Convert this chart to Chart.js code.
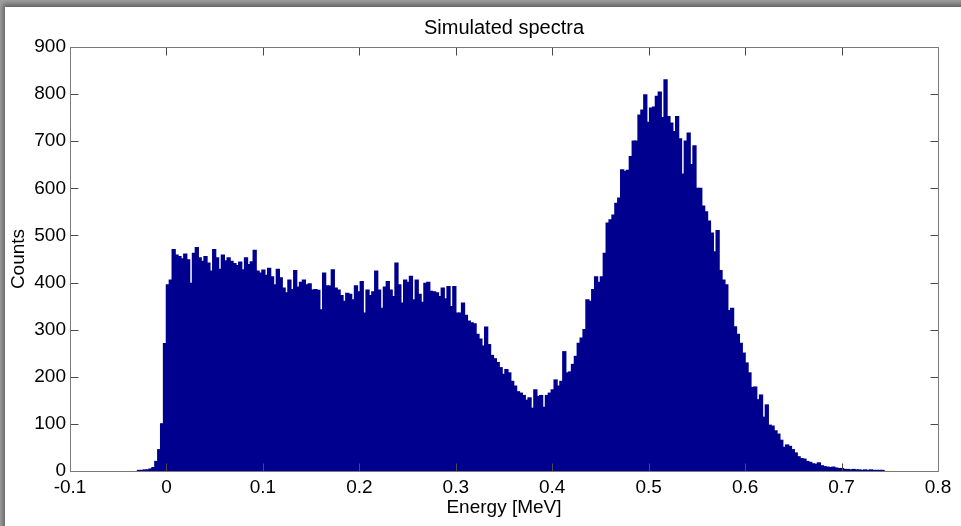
<!DOCTYPE html>
<html>
<head>
<meta charset="utf-8">
<title>Simulated spectra</title>
<script src="https://cdn.jsdelivr.net/npm/chart.js@4.4.1/dist/chart.umd.min.js"></script>
<style>
  html, body { margin: 0; padding: 0; }
  body { width: 961px; height: 526px; overflow: hidden; background: #a0a0a0; position: relative; }
  #sheet { position: absolute; left: 5px; top: 7px; width: 970px; height: 540px; background: #fff;
           box-shadow: -2px -3px 5px rgba(0,0,0,0.4); }
  #wrap { position: absolute; left: 0; top: 0; width: 961px; height: 526px; }
</style>
</head>
<body>
<div id="sheet"></div>
<div id="wrap"><canvas id="chart_simulatedSpectra"></canvas></div>
<script>
// histogram bins (MeV)
var binStart = -0.03;
var binWidth = 0.003;

// counts per bin
var counts = [
    1, 1, 2, 2, 4, 7, 20, 45, 100, 270,
    395, 405, 470, 458, 455, 450, 460, 448, 398, 462,
    474, 452, 445, 455, 441, 424, 470, 452, 428, 458,
    446, 452, 445, 440, 436, 443, 427, 452, 438, 444,
    468, 424, 420, 426, 415, 430, 412, 395, 428, 410,
    388, 378, 405, 385, 425, 390, 400, 405, 395, 397,
    384, 385, 383, 342, 420, 393, 392, 427, 388, 384,
    372, 360, 377, 375, 363, 393, 380, 402, 335, 384,
    372, 380, 424, 384, 345, 390, 402, 384, 370, 441,
    395, 356, 405, 400, 413, 363, 405, 375, 358, 398,
    400, 381, 380, 378, 370, 388, 365, 391, 349, 391,
    335, 335, 356, 330, 318, 314, 312, 290, 280, 265,
    305, 268, 245, 238, 230, 219, 205, 215, 208, 190,
    180, 168, 165, 160, 150, 155, 133, 172, 158, 160,
    135, 160, 165, 172, 193, 180, 190, 253, 208, 210,
    226, 243, 271, 282, 300, 363, 360, 385, 412, 400,
    412, 462, 526, 533, 543, 568, 579, 639, 636, 638,
    667, 700, 700, 755, 766, 798, 740, 770, 772, 795,
    804, 750, 830, 752, 738, 720, 752, 705, 630, 700,
    717, 650, 690, 600, 600, 562, 550, 530, 505, 465,
    510, 425, 405, 395, 340, 345, 306, 290, 271, 250,
    229, 208, 177, 178, 151, 161, 114, 140, 97, 95,
    85, 78, 65, 50, 55, 52, 45, 38, 30, 26,
    25, 20, 18, 15, 14, 17, 11, 9, 8, 7,
    8, 6, 5, 5, 3, 3, 2, 3, 2, 2,
    1, 2, 1, 2, 1, 1, 1, 1
];

var xTickValues = [-0.1, 0, 0.1, 0.2, 0.3, 0.4, 0.5, 0.6, 0.7, 0.8];
var yTickValues = [0, 100, 200, 300, 400, 500, 600, 700, 800, 900];

var binCenters = counts.map(function (c, i) { return binStart + binWidth * (i + 0.5); });

var fontFamily = "'Liberation Sans', Arial, Helvetica, sans-serif";
var labelFont = { family: fontFamily, size: 19, weight: 'normal' };

// matlab style box with inward ticks on all four sides
var axesBox = {
    id: 'axesBox',
    afterDatasetsDraw: function (chart) {
        var ctx = chart.ctx;
        var a = chart.chartArea;
        var xs = chart.scales.x, ys = chart.scales.y;
        var l = Math.round(a.left) + 0.5, r = Math.round(a.right) + 0.5;
        var t = Math.round(a.top) + 0.5, b = Math.round(a.bottom) + 0.5;
        ctx.save();
        ctx.lineWidth = 1;
        ctx.strokeStyle = '#4a4a4a';
        ctx.beginPath();
        xs.ticks.forEach(function (tk) {
            var px = Math.round(xs.getPixelForValue(tk.value)) + 0.5;
            ctx.moveTo(px, b); ctx.lineTo(px, b - 8);
            ctx.moveTo(px, t); ctx.lineTo(px, t + 8);
        });
        ys.ticks.forEach(function (tk) {
            var py = Math.round(ys.getPixelForValue(tk.value)) + 0.5;
            ctx.moveTo(l, py); ctx.lineTo(l + 8, py);
            ctx.moveTo(r, py); ctx.lineTo(r - 8, py);
        });
        ctx.stroke();
        ctx.strokeStyle = '#7a7a7a';
        ctx.strokeRect(l, t, r - l, b - t);
        ctx.restore();
    }
};

var chart_simulatedSpectra = new Chart(document.getElementById('chart_simulatedSpectra'), {
    type: 'bar',
    data: {
        datasets: [{
            label: 'Counts',
            data: counts.map(function (c, i) { return { x: binCenters[i], y: c }; }),
            backgroundColor: '#00008f',
            borderWidth: 0,
            inflateAmount: 0.7,
            barPercentage: 1.0,
            categoryPercentage: 1.0,
            grouped: false
        }]
    },
    options: {
        animation: false,
        responsive: true,
        maintainAspectRatio: false,
        layout: { padding: { left: 0, right: 23, top: 0, bottom: 0 } },
        plugins: {
            legend: { display: false },
            tooltip: { enabled: false },
            title: {
                display: true,
                fullSize: false,
                text: 'Simulated spectra',
                color: '#000',
                font: { family: fontFamily, size: 20, weight: 'normal' },
                padding: { top: 16, bottom: 7 }
            }
        },
        scales: {
            x: {
                type: 'linear',
                min: -0.1,
                max: 0.8,
                offset: false,
                grid: { display: false, drawTicks: false },
                border: { display: false },
                afterBuildTicks: function (scale) {
                    scale.ticks = xTickValues.map(function (v) { return { value: v }; });
                },
                afterFit: function (scale) { scale.height = 55; },
                ticks: {
                    color: '#000',
                    font: labelFont,
                    padding: 5,
                    maxRotation: 0,
                    autoSkip: false,
                    callback: function (v) { return String(Number(v.toFixed(1))); }
                },
                title: {
                    display: true,
                    text: 'Energy [MeV]',
                    color: '#000',
                    font: labelFont,
                    padding: { top: 0, bottom: 7 }
                }
            },
            y: {
                min: 0,
                max: 900,
                grid: { display: false, drawTicks: false },
                border: { display: false },
                afterBuildTicks: function (scale) {
                    scale.ticks = yTickValues.map(function (v) { return { value: v }; });
                },
                afterFit: function (scale) { scale.width = 70; },
                ticks: {
                    color: '#000',
                    font: labelFont,
                    padding: 4
                },
                title: {
                    display: true,
                    text: 'Counts',
                    color: '#000',
                    font: labelFont,
                    padding: { top: 7, bottom: 0 }
                }
            }
        }
    },
    plugins: [axesBox]
});
</script>
</body>
</html>
